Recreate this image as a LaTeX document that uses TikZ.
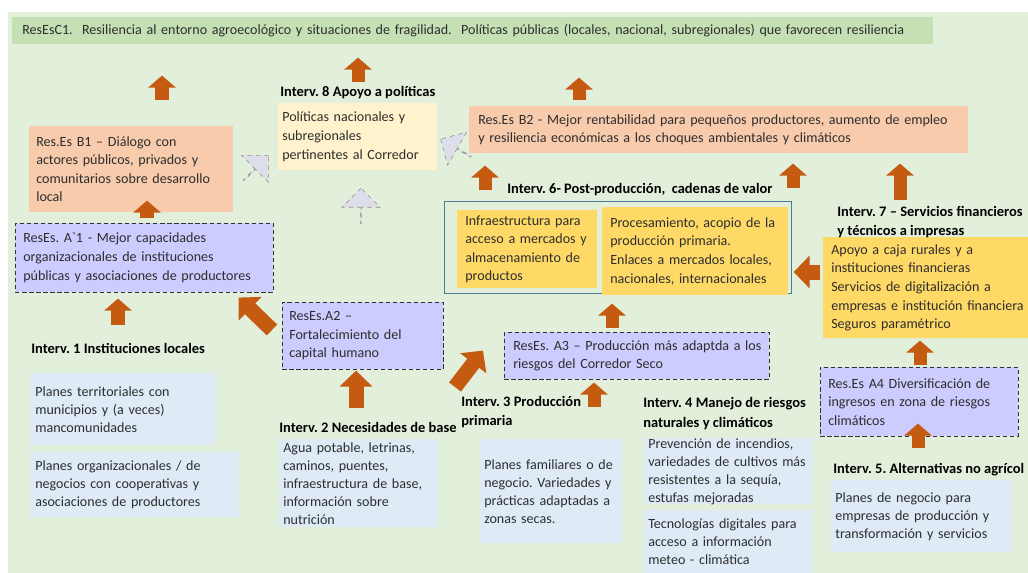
\documentclass[tikz,border=0pt]{standalone}
\usepackage{fontspec}
\setmainfont{Carlito}
\usepackage{tikz}
\usetikzlibrary{calc}
\usetikzlibrary{arrows.meta}
\usetikzlibrary{shapes.arrows}
\frenchspacing

\definecolor{bgreen}{HTML}{E2EFDA}
\definecolor{bargreen}{HTML}{C5E0B4}
\definecolor{salmon}{HTML}{F8CBAD}
\definecolor{cream}{HTML}{FFF2CC}
\definecolor{gold}{HTML}{FFD966}
\definecolor{lavender}{HTML}{CCCCFF}
\definecolor{paleblue}{HTML}{DEEBF7}
\definecolor{arrowor}{HTML}{C55A11}
\definecolor{framec}{HTML}{4F7A94}
\definecolor{greyarr}{HTML}{DDDEE9}
\definecolor{txt}{HTML}{2E2E2E}

\begin{document}
\begin{tikzpicture}[x=0.025cm, y=-0.025cm,
    every node/.style={font=\fontsize{10}{13.2}\selectfont, text=txt},
    box/.style={anchor=north west, align=left, inner ysep=0pt,
      execute at begin node={\rightskip=-1.5cm plus 1fil\relax\hyphenpenalty=10000\relax}},
    res/.style={box, fill=salmon},
    resA/.style={box, fill=lavender, draw=black!80, densely dashed, thin},
    plan/.style={box, fill=paleblue, font=\fontsize{10}{12.8}\selectfont},
    prod/.style={box, fill=gold},
    interv/.style={anchor=west, align=left, inner sep=0pt, text=black,
      font=\fontsize{10.3}{14}\selectfont\bfseries},
    orarrow/.style={draw=arrowor, line width=0.325cm, -{Triangle[width=0.675cm,length=0.3cm]}},
    bigarrow/.style={draw=arrowor, line width=0.375cm, -{Triangle[width=0.8cm,length=0.4cm]}},
    gap/.style 2 args={shorten <=#1*0.025cm, shorten >=#2*0.025cm},
    greyarrow/.style={single arrow, draw=black!45, dashed, fill=greyarr, inner sep=0pt,
      minimum height=0.875cm, minimum width=0.95cm, single arrow head extend=0.24cm}
]
\useasboundingbox (0,0) rectangle (1028,573);
\fill[bgreen] (8,12) rectangle (1028,573);

% top result
\node[box, fill=bargreen, minimum width=23cm, minimum height=0.675cm, text width=22.5cm, inner xsep=0.25cm] (bar) at (12,17)
  {ResEsC1.\ \ Resiliencia al entorno agroecológico y situaciones de fragilidad.\ \ Políticas públicas (locales, nacional, subregionales) que favorecen resiliencia};

% B results
\node[res, minimum width=5.1cm, minimum height=2.15cm, text width=4.75cm, inner xsep=0.175cm] (b1) at (29,126)
  {Res.Es B1 – Diálogo con\\ actores públicos, privados y\\ comunitarios sobre desarrollo\\ local};
\node[box, fill=cream, minimum width=3.975cm, minimum height=1.675cm, text width=3.775cm, inner xsep=0.1cm] (pol) at (278,103)
  {Políticas nacionales y\\ subregionales\\ pertinentes al Corredor};
\node[res, minimum width=12.475cm, minimum height=1.175cm, text width=12.025cm, inner xsep=0.225cm] (b2) at (469,106)
  {Res.Es B2 - Mejor rentabilidad para pequeños productores, aumento de empleo\\ y resiliencia económicas a los choques ambientales y climáticos};

% post-produccion
\node[box, draw=framec, minimum width=8.675cm, minimum height=2.3cm] (i6frame) at (444,201) {};
\node[prod, minimum width=3.5cm, minimum height=1.95cm, text width=3.1cm, inner xsep=0.2cm] (infra) at (457,210)
  {Infraestructura para\\ acceso a mercados y\\ almacenamiento de\\ productos};
\node[prod, minimum width=4.65cm, minimum height=2.2cm, text width=4.25cm, inner xsep=0.2cm] (proc) at (602,207)
  {Procesamiento, acopio de la\\ producción primaria.\\ Enlaces a mercados locales,\\ nacionales, internacionales};
\node[prod, minimum width=5.5cm, minimum height=2.525cm, text width=5.1cm, inner xsep=0.2cm] (finbox) at (823,237)
  {Apoyo a caja rurales y a\\ instituciones financieras\\ Servicios de digitalización a\\ empresas e institución financiera\\ Seguros paramétrico};

% A results
\node[resA, minimum width=6.45cm, minimum height=1.725cm, text width=6.05cm, inner xsep=0.2cm] (a1) at (15,223)
  {ResEs. A\textasciigrave1 - Mejor capacidades\\ organizacionales de instituciones\\ públicas y asociaciones de productores};
\node[resA, minimum width=4.025cm, minimum height=1.675cm, text width=3.675cm, inner xsep=0.175cm] (a2) at (282,302)
  {ResEs.A2 –\\ Fortalecimiento del\\ capital humano};
\node[resA, minimum width=6.625cm, minimum height=1.175cm, text width=6.175cm, inner xsep=0.225cm] (a3) at (504,332)
  {ResEs. A3 – Producción más adaptda a los\\ riesgos del Corredor Seco};
\node[resA, minimum width=4.95cm, minimum height=1.725cm, text width=4.55cm, inner xsep=0.2cm] (a4) at (820,367)
  {Res.Es A4 Diversificación de\\ ingresos en zona de riesgos\\ climáticos};

% planes
\node[plan, minimum width=4.625cm, minimum height=1.8cm, text width=4.375cm, inner xsep=0.125cm] (terr) at (30,373)
  {Planes territoriales con\\ municipios y (a veces)\\ mancomunidades};
\node[plan, minimum width=5.225cm, minimum height=1.625cm, text width=4.975cm, inner xsep=0.125cm] (org) at (30,452)
  {Planes organizacionales / de\\ negocios con cooperativas y\\ asociaciones de productores};
\node[plan, minimum width=3.975cm, minimum height=2.2cm, text width=3.775cm, inner xsep=0.1cm] (agua) at (279,439)
  {Agua potable, letrinas,\\ caminos, puentes,\\ infraestructura de base,\\ información sobre\\ nutrición};
\node[plan, minimum width=3.55cm, minimum height=2.6cm, text width=3.35cm, inner xsep=0.1cm] (fam) at (480,439)
  {Planes familiares o de\\ negocio. Variedades y\\ prácticas adaptadas a\\ zonas secas.};
\node[plan, minimum width=4.225cm, minimum height=1.575cm, text width=4.025cm, inner xsep=0.1cm] (prev) at (644,438)
  {Prevención de incendios,\\ variedades de cultivos más\\ resistentes a la sequía,\\ estufas mejoradas};
\node[plan, minimum width=4.225cm, minimum height=1.575cm, text width=4.025cm, inner xsep=0.1cm] (tec) at (644,510)
  {Tecnologías digitales para\\ acceso a información\\ meteo - climática};
\node[plan, minimum width=4.525cm, minimum height=1.8cm, text width=4.325cm, inner xsep=0.1cm] (neg) at (831,480)
  {Planes de negocio para\\ empresas de producción y\\ transformación y servicios};

% intervenciones
\node[interv] (i8) at (280,93) {Interv. 8 Apoyo a políticas};
\node[interv] (i6) at (507,190) {Interv. 6- Post-producción,\ \ cadenas de valor};
\node[interv] (i7) at (837,222) {Interv. 7 – Servicios financieros\\ y técnicos a impresas};
\node[interv] (i1) at (31,348) {Interv. 1 Instituciones locales};
\node[interv] (i2) at (279,427) {Interv. 2 Necesidades de base};
\node[interv] (i3) at (461,412) {Interv. 3 Producción\\ primaria};
\node[interv] (i4) at (643,413.5) {Interv. 4 Manejo de riesgos\\ naturales y climáticos};
\node[interv] (i5) at (833,470) {Interv. 5. Alternativas no agrícol};

% dashed links to policies
\node[greyarrow, rotate=45] (g1) at (256,168) {};
\node[greyarrow, rotate=150] (g2) at (456,148) {};
\node[greyarrow, rotate=90] (g3) at (361,206) {};

% orange arrows
\draw[orarrow, gap={26}{31}] (b1.north -| 162,0) -- (bar.south -| 162,0);
\draw[orarrow, gap={21}{13}] (pol.north -| 358,0) -- (bar.south -| 358,0);
\draw[orarrow, gap={6}{33}] (b2.north -| 579,0) -- (bar.south -| 579,0);
\draw[orarrow, gap={5}{-12}] (a1.north -| 147,0) -- (b1.south -| 147,0);
\draw[orarrow, gap={11}{12}] (i6frame.north -| 485,0) -- (b2.south -| 485,0);
\draw[orarrow, gap={13}{10}] (i6frame.north -| 793,0) -- (b2.south -| 793,0);
\draw[orarrow, gap={37}{10}] (finbox.north -| 900,0) -- (b2.south -| 900,0);
\draw[orarrow, gap={48}{6}] (terr.north -| 118,0) -- (a1.south -| 118,0);
\draw[bigarrow] ($(a2.north west)+(-10,28)$) -- ($(a1.south east)+(-35,5)$);
\draw[bigarrow, gap={31}{1}] (agua.north -| 356,0) -- (a2.south -| 356,0);
\draw[bigarrow] ($(fam.north west)+(-25,-52)$) -- ($(a3.south west)+(-21,-29)$);
\draw[orarrow, gap={32}{3}] (fam.north -| 594,0) -- (a3.south -| 594,0);
\draw[orarrow, gap={4}{10}] (a3.north -| 612,0) -- (i6frame.south -| 612,0);
\draw[bigarrow, gap={3}{5}] (finbox.west |- 0,272) -- (proc.east |- 0,272);
\draw[orarrow, gap={2}{2}] (a4.north -| 920,0) -- (finbox.south -| 920,0);
\draw[orarrow, gap={32}{-13}] (neg.north -| 918,0) -- (a4.south -| 918,0);
\end{tikzpicture}
\end{document}
